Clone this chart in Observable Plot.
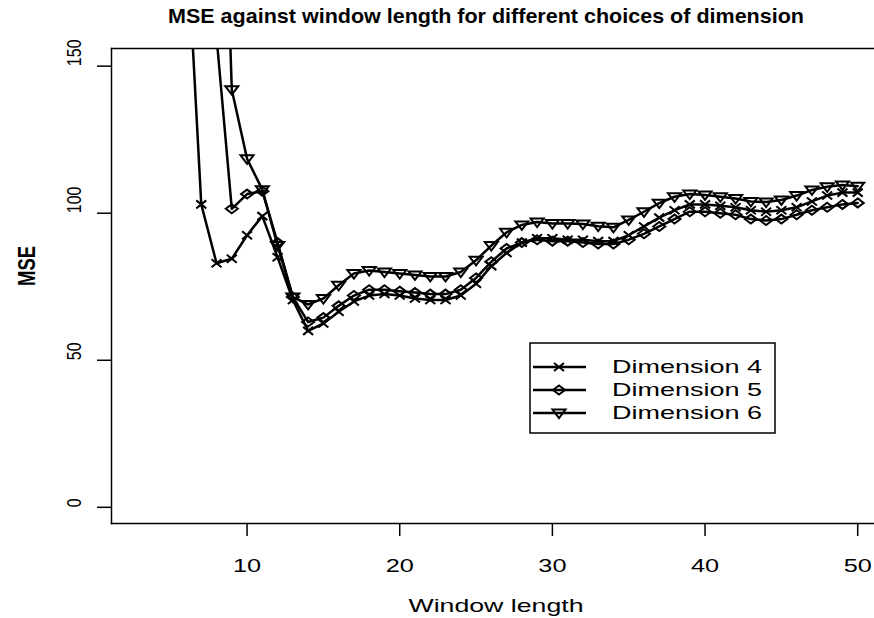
<!DOCTYPE html>
<html><head><meta charset="utf-8">
<script src="https://cdn.jsdelivr.net/npm/d3@7"></script>
<script src="https://cdn.jsdelivr.net/npm/@observablehq/plot@0.6"></script>
<style>body{margin:0;background:#fff;} svg{display:block}</style>
</head><body><div id="chart"></div>
<script>
const windowLength = [3,4,5,6,7,8,9,10,11,12,13,14,15,16,17,18,19,20,21,22,23,24,25,26,27,28,29,30,31,32,33,34,35,36,37,38,39,40,41,42,43,44,45,46,47,48,49,50];
const dim4 = [900,600,350,200,103,83,84.5,92.5,99,85,70.5,60,62.5,66.5,70,72,72.5,72,71,70.5,70.5,72,76,82,86.5,90,91.5,91.5,91,91,90.5,90.5,92.5,95.5,98.5,101,103,103,102.5,102,101,100.5,101,102,104,106,107,107];
const dim5 = [1500,1000,700,450,250,160,101.5,106.5,107.5,90,71.5,63,64.5,68.5,72,74,74,73.5,73,72.5,72.5,74,78,83.5,88,90,91,90.5,90.5,90,89.5,89.5,91,93,95.5,98,100.5,100.5,100,99.5,98,97.5,98,99.5,101,102,103,103.5];
const dim6 = [2500,1800,1200,800,500,300,142,118.5,108,89,71.5,69,71,75.5,79.5,80.5,80,79.5,79,78.5,78.5,80,84,89,93.5,96,97,96.5,96.5,96.3,95.6,95.2,97.7,100.5,103.4,105.6,106.5,106.2,105.6,105,104,103.8,104.5,106,107.9,109,109.6,109.2];
const seriesNames = ["Dimension 4","Dimension 5","Dimension 6"];
const xTicks = [10,20,30,40,50];
const yTicks = [0,50,100,150];
const titleText = "MSE against window length for different choices of dimension";
const xLabel = "Window length";
const yLabel = "MSE";

const crossSym = {draw(c){ c.moveTo(-5,-4); c.lineTo(5,4); c.moveTo(-5,4); c.lineTo(5,-4); }};
const diamondSym = {draw(c){ c.moveTo(0,-4.5); c.lineTo(6,0); c.lineTo(0,4.5); c.lineTo(-6,0); c.closePath(); }};
const triSym = {draw(c){ c.moveTo(-6.5,-3.5); c.lineTo(6.5,-3.5); c.lineTo(0,5); c.closePath(); }};
const symbols = [crossSym, diamondSym, triSym];

const seriesValues = [dim4, dim5, dim6];
const rows = seriesValues.map((vals, k) => windowLength.map((x, i) => ({x, y: vals[i], series: seriesNames[k]})));

const font = "'Liberation Sans', Arial, sans-serif";
const marks = [
  Plot.frame({anchor: "left", stroke: "black", strokeWidth: 1.5}),
  Plot.frame({anchor: "top", stroke: "black", strokeWidth: 1.5}),
  Plot.frame({anchor: "bottom", stroke: "black", strokeWidth: 1.5}),
  Plot.axisX({ticks: xTicks, tickSize: 13, tickPadding: 22, fontSize: 19, label: null, strokeWidth: 1.5}),
  Plot.axisY({ticks: yTicks, tickSize: 14, tickFormat: () => "", label: null, strokeWidth: 1.5}),
  Plot.text(yTicks, {y: d => d, text: d => String(d), frameAnchor: "left", dx: -37, rotate: -90, fontSize: 16}),
  Plot.text([titleText], {text: d => d, frameAnchor: "top", lineAnchor: "middle", dy: -32, dx: -7, fontSize: 20.5, fontWeight: "bold"}),
  Plot.text([xLabel], {text: d => d, frameAnchor: "bottom", lineAnchor: "middle", dy: 82, dx: 3, fontSize: 19}),
  Plot.text([yLabel], {text: d => d, frameAnchor: "left", dx: -84, rotate: -90, fontSize: 18.5, fontWeight: "bold"})
];
rows.forEach((r, k) => {
  marks.push(Plot.line(r, {x: "x", y: "y", stroke: "black", strokeWidth: 2.5, clip: true}));
  marks.push(Plot.dot(r, {x: "x", y: "y", symbol: symbols[k], stroke: "black", fill: "none", strokeWidth: 2, clip: true}));
});

const chart = Plot.plot({
  width: 874, height: 618,
  marginLeft: 111, marginRight: 0, marginTop: 48, marginBottom: 95,
  x: {domain: [1.12, 51.1]},
  y: {domain: [-5.5, 156]},
  style: {fontFamily: font, background: "white", color: "black"},
  marks
});
document.getElementById("chart").appendChild(chart);

const svg = d3.select(chart);
function fix(el, target) { el.setAttribute("textLength", target); el.setAttribute("lengthAdjust", "spacingAndGlyphs"); }
const yTickStrings = yTicks.map(String);
const xTickStrings = xTicks.map(String);
svg.selectAll("text").each(function(){
  const s = this.textContent;
  const tr = this.getAttribute("transform") || "";
  if (s === titleText) fix(this, 636);
  else if (s === xLabel) fix(this, 175);
  else if (s === yLabel || (yTickStrings.includes(s) && tr.includes("rotate"))) {
    this.setAttribute("transform", tr + " scale(1,1.3)");
  } else if (xTickStrings.includes(s)) fix(this, this.getComputedTextLength() * 1.33);
});

// legend
const lg = svg.append("g").attr("font-family", font).attr("text-anchor", "start");
lg.append("rect").attr("x", 530).attr("y", 343).attr("width", 245).attr("height", 90)
  .attr("fill", "white").attr("stroke", "black").attr("stroke-width", 1.5);
seriesNames.forEach((name, k) => {
  const cy = 367 + k * 23;
  lg.append("line").attr("x1", 533).attr("x2", 586).attr("y1", cy).attr("y2", cy)
    .attr("stroke", "black").attr("stroke-width", 2.5);
  const p = d3.path(); symbols[k].draw(p, 0);
  lg.append("path").attr("d", p.toString()).attr("transform", `translate(559,${cy})`)
    .attr("fill", "none").attr("stroke", "black").attr("stroke-width", 2);
  const t = lg.append("text").attr("x", 612).attr("y", cy).attr("dy", "0.35em")
    .attr("text-anchor", "start").attr("font-size", 18.5).attr("fill", "black").text(name);
  fix(t.node(), 150);
});
</script>
</body></html>
